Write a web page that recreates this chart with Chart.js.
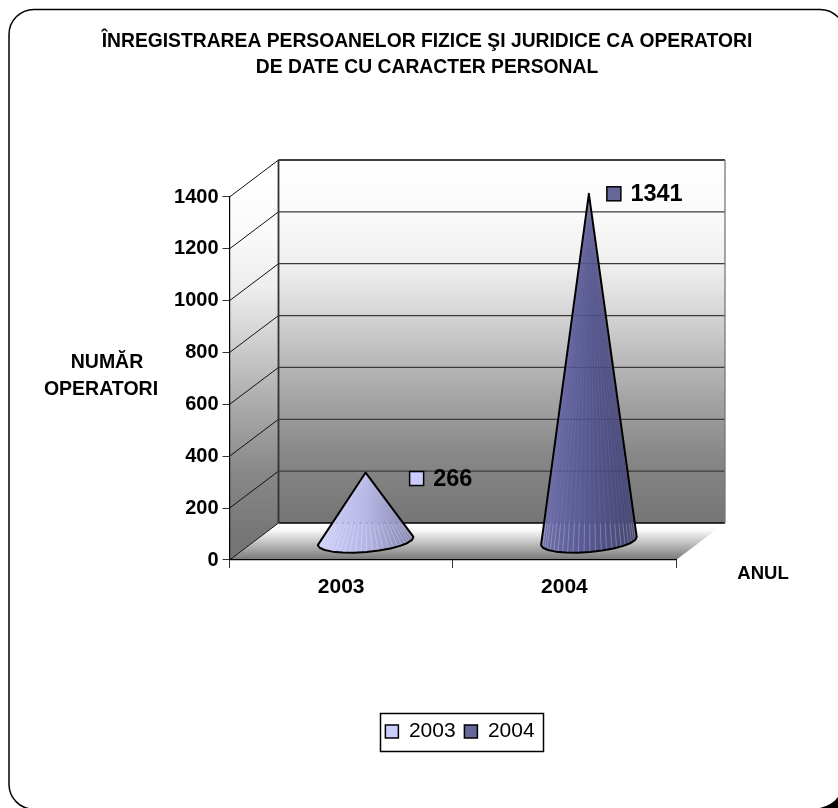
<!DOCTYPE html>
<html>
<head>
<meta charset="utf-8">
<style>html,body{margin:0;padding:0;background:#fff}#w{width:838px;height:808px;position:relative}</style>
<script src="https://cdn.jsdelivr.net/npm/chart.js@4"></script>
</head>
<body>
<div id="w"><canvas id="c" width="838" height="808"></canvas></div>
<script>
const categories = ['2003', '2004'];
const values2003 = [266, null];
const values2004 = [null, 1341];
const seriesNames = ['2003', '2004'];
const seriesColors = ['#ccccff', '#666699'];
const titleLines = ['ÎNREGISTRAREA PERSOANELOR FIZICE ŞI JURIDICE CA OPERATORI', 'DE DATE CU CARACTER PERSONAL'];
const yTitleLines = ['NUMĂR', 'OPERATORI'];
const xTitle = 'ANUL';

const FONT = '"Liberation Sans", Arial, sans-serif';
const DEPTH_X = 49, DEPTH_Y = 37;
const PLOT = { left: 229.5, right: 676, top: 197, bottom: 560 };
const coneShades = [
  ['#d0d0fc', '#b6b6e6', '#8484ac'],
  ['#6e6eaa', '#575792', '#45456f']
];
const labelOffsets = [{ dx: 44, dy: 6 }, { dx: 18, dy: 0 }];
const wallStops = [[0, '#ffffff'], [0.15, '#fafafa'], [0.3, '#eeeeee'], [0.42, '#d6d6d6'], [0.52, '#c0c0c0'], [0.65, '#a6a6a6'], [0.81, '#888888'], [1, '#757575']];

function coneOutline(ctx, cx, apexY, baseY, rx) {
  const ry = 11, t = -0.085, n = 12;
  const pts = [];
  for (let i = 0; i <= n; i++) {
    const a = Math.PI - Math.PI * i / n;
    const ex = rx * Math.cos(a), ey = ry * Math.sin(a);
    pts.push([cx + ex * Math.cos(t) - ey * Math.sin(t), baseY + ex * Math.sin(t) + ey * Math.cos(t)]);
  }
  ctx.beginPath();
  ctx.moveTo(cx, apexY);
  pts.forEach(p => ctx.lineTo(p[0], p[1]));
  ctx.closePath();
  return pts;
}

const scene = {
  id: 'scene',
  afterLayout(chart) {
    const l = chart.legend, tb = chart.titleBlock;
    const dl = 460 - (l.left + l.right) / 2;
    l.left += dl; l.right += dl;
    const h = l.bottom - l.top;
    l.top = 732 - h / 2; l.bottom = l.top + h;
    const dt = 427 - (tb.left + tb.right) / 2;
    tb.left += dt; tb.right += dt;
  },
  beforeDraw(chart) {
    const ctx = chart.ctx, a = chart.chartArea, ys = chart.scales.y;
    const L = a.left, R = a.right, B = a.bottom, T = a.top;
    ctx.save();
    // frame
    ctx.strokeStyle = '#000'; ctx.lineWidth = 1.5;
    ctx.beginPath();
    ctx.roundRect(9, 9.5, 836, 799.7, 25);
    ctx.stroke();
    ctx.fillStyle = '#000';
    ctx.beginPath();
    ctx.moveTo(820, 808); ctx.quadraticCurveTo(832, 805, 838, 797); ctx.lineTo(838, 808); ctx.closePath();
    ctx.fill();
    // back wall
    const wallTop = T - DEPTH_Y, wallBot = B - DEPTH_Y;
    let g = ctx.createLinearGradient(0, wallTop, 0, wallBot);
    wallStops.forEach(s => g.addColorStop(s[0], s[1]));
    ctx.fillStyle = g;
    ctx.fillRect(L + DEPTH_X, wallTop, R - L, B - T);
    // side wall
    g = ctx.createLinearGradient(0, wallTop + 18, 0, wallBot + 18);
    wallStops.forEach(s => g.addColorStop(s[0], s[1]));
    ctx.fillStyle = g;
    ctx.beginPath();
    ctx.moveTo(L, T); ctx.lineTo(L + DEPTH_X, wallTop); ctx.lineTo(L + DEPTH_X, wallBot); ctx.lineTo(L, B); ctx.closePath();
    ctx.fill();
    // floor
    g = ctx.createLinearGradient(0, wallBot, 0, B);
    g.addColorStop(0, '#ffffff'); g.addColorStop(0.18, '#fbfbfb'); g.addColorStop(1, '#777777');
    ctx.fillStyle = g;
    ctx.beginPath();
    ctx.moveTo(L, B); ctx.lineTo(L + DEPTH_X, wallBot); ctx.lineTo(R + DEPTH_X, wallBot); ctx.lineTo(R, B); ctx.closePath();
    ctx.fill();
    // gridlines
    ys.ticks.forEach(tk => {
      const y = ys.getPixelForValue(tk.value);
      ctx.lineWidth = 1;
      ctx.strokeStyle = '#111';
      ctx.beginPath(); ctx.moveTo(L, y); ctx.lineTo(L + DEPTH_X, y - DEPTH_Y); ctx.stroke();
      ctx.strokeStyle = tk.value === 1400 || tk.value === 0 ? '#000' : '#3c3c3c';
      ctx.lineWidth = tk.value === 1400 ? 1.5 : 1.3;
      ctx.beginPath(); ctx.moveTo(L + DEPTH_X, y - DEPTH_Y); ctx.lineTo(R + DEPTH_X, y - DEPTH_Y); ctx.stroke();
    });
    ctx.strokeStyle = '#333'; ctx.lineWidth = 1.8;
    ctx.beginPath(); ctx.moveTo(L + DEPTH_X, wallTop); ctx.lineTo(L + DEPTH_X, wallBot); ctx.stroke();
    ctx.strokeStyle = '#777'; ctx.lineWidth = 1.3;
    ctx.beginPath(); ctx.moveTo(R + DEPTH_X, wallTop); ctx.lineTo(R + DEPTH_X, wallBot); ctx.stroke();
    ctx.restore();
  },
  beforeDatasetDraw(chart, args) {
    const ctx = chart.ctx, ys = chart.scales.y, a = chart.chartArea;
    const wallBot = a.bottom - DEPTH_Y;
    const idx = args.index;
    const shades = coneShades[idx];
    args.meta.data.forEach((bar, i) => {
      if (chart.data.datasets[idx].data[i] == null) return;
      const cx = bar.x + DEPTH_X / 2, apexY = bar.y - DEPTH_Y / 2, baseY = bar.base - DEPTH_Y / 2, rx = bar.width / 2;
      ctx.save();
      const pts = coneOutline(ctx, cx, apexY, baseY, rx);
      const g = ctx.createLinearGradient(cx - rx, 0, cx + rx, 0);
      g.addColorStop(0, shades[0]); g.addColorStop(0.5, shades[1]); g.addColorStop(1, shades[2]);
      ctx.fillStyle = g;
      ctx.fill();
      ctx.save();
      ctx.clip();
      // fan of facets
      const sg = ctx.createLinearGradient(0, wallBot - 1, 0, wallBot + 1);
      sg.addColorStop(0, 'rgba(255,255,255,0.06)');
      sg.addColorStop(1, 'rgba(255,255,255,0.26)');
      ctx.strokeStyle = sg; ctx.lineWidth = 1;
      for (let k = 0; k <= 26; k++) {
        const q = k / 26 * (pts.length - 1), q0 = Math.floor(q), q1 = Math.min(q0 + 1, pts.length - 1), f = q - q0;
        ctx.beginPath(); ctx.moveTo(cx, apexY);
        ctx.lineTo(pts[q0][0] + (pts[q1][0] - pts[q0][0]) * f, pts[q0][1] + (pts[q1][1] - pts[q0][1]) * f);
        ctx.stroke();
      }
      // wall lines seen faintly through the cone
      ctx.strokeStyle = 'rgba(40,40,60,0.28)'; ctx.lineWidth = 1;
      ys.ticks.forEach(tk => {
        const y = ys.getPixelForValue(tk.value) - DEPTH_Y;
        ctx.setLineDash(tk.value === 0 ? [2, 4] : []);
        ctx.beginPath(); ctx.moveTo(cx - rx, y); ctx.lineTo(cx + rx, y); ctx.stroke();
      });
      ctx.restore();
      coneOutline(ctx, cx, apexY, baseY, rx);
      ctx.strokeStyle = '#000'; ctx.lineWidth = 2; ctx.lineJoin = 'round';
      ctx.stroke();
      ctx.restore();
      // value label with key
      const off = labelOffsets[idx];
      const sx = cx + off.dx, sy = apexY + off.dy;
      ctx.save();
      ctx.fillStyle = seriesColors[idx]; ctx.strokeStyle = '#000'; ctx.lineWidth = 1.5;
      ctx.fillRect(sx, sy - 7, 14, 14); ctx.strokeRect(sx, sy - 7, 14, 14);
      ctx.fillStyle = '#000'; ctx.font = 'bold 23.5px ' + FONT; ctx.textAlign = 'left'; ctx.textBaseline = 'middle';
      ctx.fillText(String(chart.data.datasets[idx].data[i]), sx + 23.5, sy + 1);
      ctx.restore();
    });
    return false;
  },
  afterDraw(chart) {
    const ctx = chart.ctx;
    ctx.save();
    ctx.fillStyle = '#000'; ctx.textBaseline = 'middle'; ctx.textAlign = 'center';
    ctx.font = 'bold 19.5px ' + FONT;
    ctx.fillText(yTitleLines[0], 107, 363);
    ctx.fillText(yTitleLines[1], 101, 390);
    ctx.font = 'bold 18.5px ' + FONT;
    ctx.fillText(xTitle, 763, 574);
    ctx.strokeStyle = '#000'; ctx.lineWidth = 1.5;
    ctx.strokeRect(380.5, 713.5, 163, 38);
    ctx.restore();
  }
};

new Chart(document.getElementById('c'), {
  type: 'bar',
  data: {
    labels: categories,
    datasets: [
      { label: seriesNames[0], data: values2003, grouped: false, backgroundColor: seriesColors[0], borderColor: '#000', borderWidth: 1.5 },
      { label: seriesNames[1], data: values2004, grouped: false, backgroundColor: seriesColors[1], borderColor: '#000', borderWidth: 1.5 }
    ]
  },
  plugins: [scene],
  options: {
    responsive: false,
    animation: false,
    categoryPercentage: 0.43,
    barPercentage: 1,
    layout: { padding: { left: 0, right: 838 - PLOT.right, top: 0, bottom: 0 } },
    plugins: {
      tooltip: { enabled: false },
      title: {
        display: true,
        text: titleLines,
        color: '#000',
        font: { family: FONT, size: 19.3, weight: 'bold', lineHeight: 1.347 },
        padding: { top: 29, bottom: PLOT.top - 81 }
      },
      legend: {
        display: true,
        position: 'bottom',
        labels: {
          color: '#000',
          font: { family: FONT, size: 21 },
          boxWidth: 13, boxHeight: 13,
          padding: 8.8
        }
      }
    },
    scales: {
      x: {
        offset: true,
        grid: { offset: true, drawOnChartArea: false, drawTicks: true, tickLength: 8, tickColor: '#333' },
        border: { display: true, color: '#000', width: 1.2 },
        ticks: { color: '#000', padding: 7, font: { family: FONT, size: 21, weight: 'bold' }, maxRotation: 0 },
        afterFit(s) { s.height = 808 - s.chart.legend.height - PLOT.bottom; }
      },
      y: {
        min: 0, max: 1400,
        grid: { drawOnChartArea: false, drawTicks: true, tickLength: 7, tickColor: '#333' },
        border: { display: true, color: '#000', width: 1.2 },
        ticks: { stepSize: 200, color: '#000', padding: 4, font: { family: FONT, size: 20, weight: 'bold' }, callback: v => String(v) },
        afterFit(s) { s.width = PLOT.left; }
      }
    }
  }
});
</script>
</body>
</html>
